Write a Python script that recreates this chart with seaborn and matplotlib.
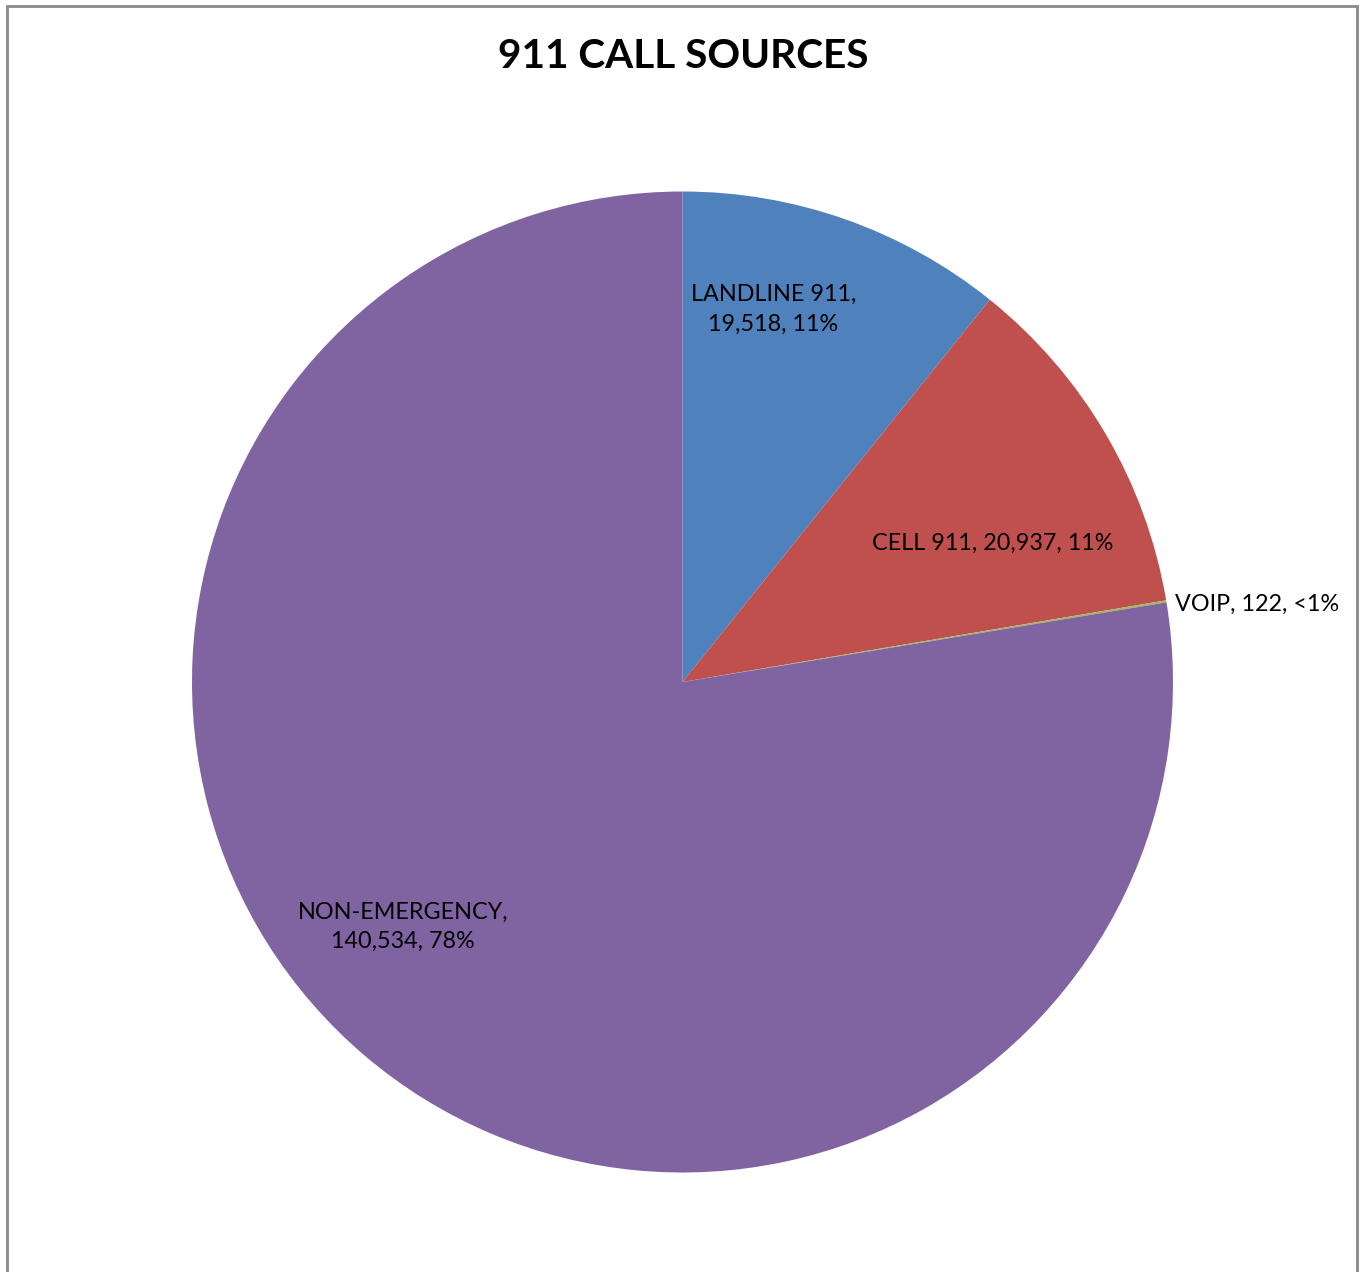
import matplotlib
matplotlib.use("Agg")
import matplotlib.pyplot as plt
import seaborn as sns
from matplotlib.patches import Rectangle

sources = ["LANDLINE 911", "CELL 911", "VOIP", "NON-EMERGENCY"]
calls = [19518, 20937, 122, 140534]
pct_labels = ["11%", "11%", "<1%", "78%"]
colors = ["#4F81BD", "#C0504D", "#9BBB59", "#8064A2"]

sns.set_theme(style="white")
plt.rcParams["font.family"] = ["Lato", "DejaVu Sans"]
palette = sns.color_palette(colors)

fig = plt.figure(figsize=(13.62, 12.72), dpi=100)
fig.patch.set_facecolor("white")

cx, cy = 682.5 / 1362, 1 - 682 / 1272
rw, rh = 490.5 / 1362, 490.5 / 1272
ax = fig.add_axes([cx - rw, cy - rh, 2 * rw, 2 * rh])
ax.pie(calls, colors=palette, startangle=90, counterclock=False, radius=1,
       wedgeprops=dict(linewidth=0))
ax.set_xlim(-1, 1)
ax.set_ylim(-1, 1)
ax.set_aspect("equal")
ax.axis("off")

fs = 16.8
def lab(i, sep):
    return f"{sources[i]},{sep}{calls[i]:,}, {pct_labels[i]}"

ax.text(0.185, 0.760, lab(0, "\n"), ha="center", va="center", fontsize=fs,
        linespacing=1.5, color="black")
ax.text(0.633, 0.283, lab(1, " "), ha="center", va="center", fontsize=fs, color="black")
ax.text(1.004, 0.159, lab(2, " "), ha="left", va="center", fontsize=fs, color="black")
ax.text(-0.570, -0.499, lab(3, "\n"), ha="center", va="center", fontsize=fs,
        linespacing=1.45, color="black")

fig.text(683 / 1362, 1 - 57 / 1272, "911 CALL SOURCES", ha="center", va="center",
         fontsize=29.2, fontweight="bold", color="black")

fig.patches.append(Rectangle((7 / 1362, -0.01), (1357 - 7) / 1362, 1 - 6 / 1272 + 0.01,
                             transform=fig.transFigure, fill=False,
                             edgecolor="#898989", linewidth=2))

fig.savefig("out.png", dpi=100, facecolor="white")
